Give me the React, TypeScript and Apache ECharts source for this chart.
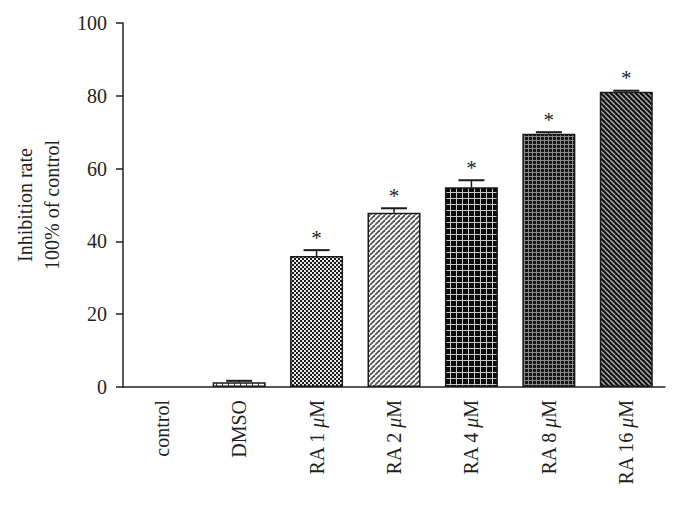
import React, { useEffect, useRef } from "react";
import * as echarts from "echarts";

const categories = ["control", "DMSO", "RA 1 μM", "RA 2 μM", "RA 4 μM", "RA 8 μM", "RA 16 μM"];
const meanValues = [0, 1.3, 36.0, 47.9, 54.9, 69.6, 81.1];
const errorValues = [0, 0.4, 1.6, 1.2, 1.9, 0.4, 0.3];
const significant = [false, false, true, true, true, true, true];
const patternKinds = ["none", "vlines", "checker", "diagUp", "gridWide", "gridFine", "diagDown"];
const yTicks = [0, 20, 40, 60, 80, 100];

const FONT = "'Liberation Serif', 'DejaVu Serif', serif";
const FS = 20;

function makePattern(kind: string): any {
  const c = document.createElement("canvas");
  let s = 6;
  if (kind === "checker") s = 4;
  if (kind === "gridWide") s = 6;
  if (kind === "gridFine") s = 4;
  if (kind === "diagUp") s = 5;
  if (kind === "diagDown") s = 5;
  c.width = s;
  c.height = s;
  const g = c.getContext("2d")!;
  if (kind === "none") {
    g.fillStyle = "#ffffff";
    g.fillRect(0, 0, s, s);
  } else if (kind === "vlines") {
    g.fillStyle = "#ffffff";
    g.fillRect(0, 0, s, s);
    g.fillStyle = "#333333";
    g.fillRect(0, 0, 1, s);
  } else if (kind === "checker") {
    g.fillStyle = "#e8e8e8";
    g.fillRect(0, 0, s, s);
    g.fillStyle = "#1a1a1a";
    g.fillRect(0, 0, 2, 2);
    g.fillRect(2, 2, 2, 2);
  } else if (kind === "gridWide") {
    g.fillStyle = "#0a0a0a";
    g.fillRect(0, 0, s, s);
    g.fillStyle = "#c8c8c8";
    g.fillRect(0, 0, 1, s);
    g.fillRect(0, 0, s, 1);
  } else if (kind === "gridFine") {
    g.fillStyle = "#151515";
    g.fillRect(0, 0, s, s);
    g.fillStyle = "#8a8a8a";
    g.fillRect(0, 0, 1, s);
    g.fillRect(0, 0, s, 1);
  } else if (kind === "diagUp" || kind === "diagDown") {
    const up = kind === "diagUp";
    g.fillStyle = up ? "#ffffff" : "#111111";
    g.fillRect(0, 0, s, s);
    g.strokeStyle = up ? "#555555" : "#b0b0b0";
    g.lineWidth = up ? 1.8 : 1.4;
    for (let k = -1; k <= 1; k++) {
      g.beginPath();
      if (up) {
        g.moveTo(k * s, s);
        g.lineTo(k * s + s, 0);
      } else {
        g.moveTo(k * s, 0);
        g.lineTo(k * s + s, s);
      }
      g.stroke();
    }
  }
  return { image: c, repeat: "repeat" };
}

export default function App() {
  const ref = useRef<HTMLDivElement>(null);
  useEffect(() => {
    if (!ref.current) return;
    const chart = echarts.init(ref.current, null, { renderer: "svg" });
    const barData = meanValues.map((v, i) => ({
      value: v,
      itemStyle: {
        color: makePattern(patternKinds[i]),
        borderColor: "#1a1a1a",
        borderWidth: v > 0 ? 1.5 : 0,
      },
    }));
    const errData = meanValues.map((v, i) => [i, v, errorValues[i], significant[i] ? 1 : 0]);
    chart.setOption({
      animation: false,
      backgroundColor: "#ffffff",
      grid: { left: 123, right: 15, top: 23, bottom: 123, containLabel: false },
      xAxis: {
        type: "category",
        data: categories,
        boundaryGap: true,
        axisLine: { lineStyle: { color: "#222", width: 1.5 } },
        axisTick: { alignWithLabel: true, length: 7, lineStyle: { color: "#222", width: 1.5 } },
        axisLabel: {
          rotate: 90,
          margin: 13,
          interval: 0,
          color: "#231f20",
          fontFamily: FONT,
          fontSize: FS,
          formatter: (val: string) => val.replace("μ", "{i|μ}"),
          rich: {
            i: { fontStyle: "italic", fontFamily: FONT, fontSize: FS, color: "#231f20" },
          },
        },
      },
      yAxis: {
        type: "value",
        min: 0,
        max: 100,
        interval: 20,
        splitLine: { show: false },
        axisLine: { show: true, lineStyle: { color: "#222", width: 1.5 } },
        axisTick: { show: true, length: 7, lineStyle: { color: "#222", width: 1.5 } },
        axisLabel: {
          margin: 16,
          color: "#231f20",
          fontFamily: FONT,
          fontSize: FS,
          formatter: (v: number) => (yTicks.includes(v) ? String(v) : ""),
        },
      },
      graphic: [
        {
          type: "text",
          x: 38.5,
          y: 205,
          rotation: Math.PI / 2,
          style: {
            text: "Inhibition rate\n100% of control",
            align: "center",
            verticalAlign: "middle",
            fontFamily: FONT,
            fontSize: FS,
            lineHeight: 27,
            fill: "#231f20",
          },
        },
      ],
      series: [
        {
          type: "bar",
          data: barData,
          barWidth: 53,
          z: 2,
        },
        {
          type: "custom",
          z: 3,
          data: errData,
          renderItem: (params: any, api: any) => {
            const i = api.value(0);
            const v = api.value(1);
            const e = api.value(2);
            const sig = api.value(3);
            const base = api.coord([i, v]);
            const top = api.coord([i, v + e]);
            const half = 13;
            const children: any[] = [];
            if (e > 0) {
              children.push({
                type: "line",
                shape: { x1: base[0], y1: base[1], x2: top[0], y2: top[1] },
                style: { stroke: "#1a1a1a", lineWidth: 1.5 },
              });
              children.push({
                type: "line",
                shape: { x1: top[0] - half, y1: top[1], x2: top[0] + half, y2: top[1] },
                style: { stroke: "#1a1a1a", lineWidth: 2 },
              });
            }
            if (sig) {
              children.push({
                type: "text",
                x: top[0],
                y: top[1] - 2,
                style: {
                  text: "*",
                  align: "center",
                  verticalAlign: "bottom",
                  fontFamily: FONT,
                  fontSize: 21,
                  fill: "#231f20",
                },
              });
            }
            return { type: "group", children };
          },
        },
      ],
    });
    return () => chart.dispose();
  }, []);
  return (
    <div
      ref={ref}
      style={{ width: 680, height: 510, position: "absolute", left: 0, top: 0 }}
    />
  );
}
